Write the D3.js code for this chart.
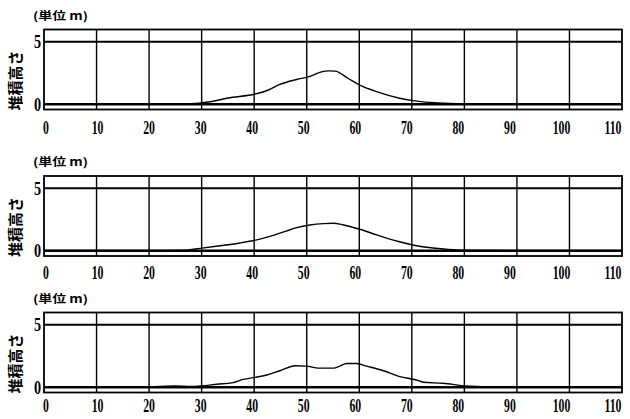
<!DOCTYPE html>
<html>
<head>
<meta charset="utf-8">
<script src="https://cdn.jsdelivr.net/npm/d3@7"></script>
<style>
  body { margin: 0; background: #fff; }
  svg { display: block; }
  .num { font-family: "Liberation Serif", "DejaVu Serif", serif; font-weight: bold; font-size: 19px; fill: #000; }
  .jp { font-family: "Noto Sans CJK JP", sans-serif; font-weight: bold; fill: #000; }
</style>
</head>
<body>
<div id="chart"></div>
<script>
// Distance ticks (x) and height ticks (y)
const xTicks = [0, 10, 20, 30, 40, 50, 60, 70, 80, 90, 100, 110];
const yTicks = [0, 5];
const refLines = [0, 5];

// Panel 1 profile
const distance1 = [0, 10, 20, 28, 31.6, 35, 40.2, 42.7, 44.9, 48.1, 50.3, 52.8, 54.1, 55.4, 57.9, 60.1, 63.3, 67.7, 70.3, 75, 80, 90, 110];
const height1   = [0.05, 0.03, 0.02, 0.04, 0.2, 0.5, 0.82, 1.14, 1.59, 1.98, 2.19, 2.59, 2.67, 2.65, 2.06, 1.53, 1.01, 0.48, 0.29, 0.1, 0.04, 0.02, 0.02];

// Panel 2 profile
const distance2 = [0, 10, 20, 27, 29.7, 33.5, 37.3, 40.5, 43.3, 46.2, 48.1, 50.6, 53.2, 55.1, 57, 60.1, 63.3, 66.5, 69, 70.9, 74, 77, 80, 90, 110];
const height2   = [0.03, 0.02, 0.02, 0.05, 0.19, 0.4, 0.62, 0.87, 1.19, 1.59, 1.85, 2.06, 2.17, 2.2, 2.06, 1.72, 1.27, 0.85, 0.58, 0.4, 0.22, 0.1, 0.04, 0.02, 0.02];

// Panel 3 profile
const distance3 = [0, 10, 20, 25, 28, 29.7, 32.9, 36, 37.9, 40.2, 42.4, 44.9, 47.8, 50, 52.2, 55.1, 56.3, 57.6, 59.5, 61.4, 64.6, 67.7, 70.9, 72.2, 75.9, 80.4, 83.6, 90, 110];
const height3   = [0.03, 0.02, 0.05, 0.1, 0.06, 0.1, 0.24, 0.37, 0.63, 0.79, 0.98, 1.32, 1.72, 1.69, 1.53, 1.53, 1.69, 1.9, 1.9, 1.69, 1.32, 0.85, 0.58, 0.4, 0.32, 0.1, 0.05, 0.02, 0.02];

const titleText = "(単位 m)";
const yLabelText = "堆積高さ";

const profiles = [
    {x: distance1, y: height1},
    {x: distance2, y: height2},
    {x: distance3, y: height3}
];

const width = 630, height = 419;
const panelTops = [29.5, 176, 312.5];
const labelGaps = [24, 22.5, 19];  // baseline of x labels below each frame
const panelH = 80;
const left = 44, right = 622;
const squeeze = 0.62; // the scanned digits are very narrow

const svg = d3.select("#chart").append("svg")
    .attr("width", width)
    .attr("height", height);

const xScale = d3.scaleLinear().domain([0, 110]).range([left, right]);
// tick labels sit slightly inside the frame in the original
const xLabelScale = d3.scaleLinear().domain([0, 110]).range([46, 613]);

profiles.forEach((p, i) => {
    const top = panelTops[i];
    const yScale = d3.scaleLinear().domain([-0.42, 5.98]).range([top + panelH, top]);
    const g = svg.append("g");

    // Vertical grid lines
    g.selectAll(".vgrid")
        .data(xTicks.slice(1, -1))
        .enter().append("line")
        .attr("x1", d => xScale(d)).attr("x2", d => xScale(d))
        .attr("y1", top).attr("y2", top + panelH)
        .attr("stroke", "#000").attr("stroke-width", 1.4);

    // Reference lines at 0 and 5
    g.selectAll(".href")
        .data(refLines)
        .enter().append("line")
        .attr("x1", left).attr("x2", right)
        .attr("y1", d => yScale(d)).attr("y2", d => yScale(d))
        .attr("stroke", "#000").attr("stroke-width", d => d === 0 ? 2.6 : 2.2);

    // Frame
    g.append("rect")
        .attr("x", left).attr("y", top)
        .attr("width", right - left).attr("height", panelH)
        .attr("fill", "none").attr("stroke", "#000").attr("stroke-width", 1.8);

    // Profile line
    const line = d3.line()
        .x((d, k) => xScale(p.x[k]))
        .y(d => yScale(d))
        .curve(d3.curveMonotoneX);
    g.append("path")
        .datum(p.y)
        .attr("d", line)
        .attr("fill", "none")
        .attr("stroke", "#000")
        .attr("stroke-width", 1.4);

    // x tick labels
    g.selectAll(".xlab")
        .data(xTicks)
        .enter().append("text")
        .attr("class", "num")
        .attr("transform", d => "translate(" + xLabelScale(d) + "," + (top + panelH + labelGaps[i]) + ") scale(" + squeeze + ",1)")
        .attr("text-anchor", "middle")
        .text(d => d);

    // y tick labels
    g.selectAll(".ylab")
        .data(yTicks)
        .enter().append("text")
        .attr("class", "num")
        .attr("transform", d => "translate(" + (left - 3) + "," + (yScale(d) + 6.5) + ") scale(0.75,1)")
        .attr("text-anchor", "end")
        .text(d => d);

    // Unit title
    g.append("text")
        .attr("class", "jp")
        .attr("x", 33)
        .attr("y", top - 10)
        .attr("font-size", 11)
        .attr("textLength", 55)
        .attr("lengthAdjust", "spacingAndGlyphs")
        .text(titleText);

    // y axis label
    g.append("text")
        .attr("class", "jp")
        .attr("transform", "translate(21," + (top + 51) + ") rotate(-90)")
        .attr("text-anchor", "middle")
        .attr("font-size", 15)
        .attr("textLength", 60)
        .attr("lengthAdjust", "spacingAndGlyphs")
        .text(yLabelText);
});
</script>
</body>
</html>
